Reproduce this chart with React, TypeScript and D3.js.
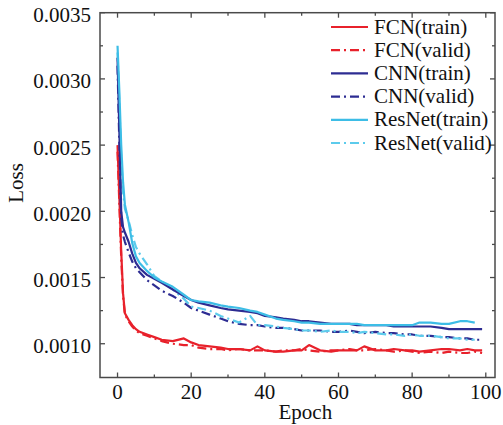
import React from "react";
import * as d3 from "d3";

const epochs = [0, 0.5, 1, 1.5, 2, 3, 4, 5, 6, 8, 10, 12, 15, 18, 20, 22, 25, 28, 30, 33, 36, 38, 40, 43, 45, 48, 50, 52, 55, 58, 60, 63, 65, 67, 70, 73, 75, 78, 80, 82, 85, 88, 90, 93, 95, 97, 99];

const fcnTrain = [0.00250, 0.00210, 0.00170, 0.00138, 0.00123, 0.00118, 0.00114, 0.00111, 0.00109, 0.00107, 0.00105, 0.00103, 0.00102, 0.00104, 0.00101, 0.00099, 0.00098, 0.00097, 0.00096, 0.00096, 0.00095, 0.00098, 0.00095, 0.00094, 0.00094, 0.00095, 0.00095, 0.00099, 0.00095, 0.00094, 0.00095, 0.00095, 0.00095, 0.00098, 0.00095, 0.00095, 0.00096, 0.00095, 0.00095, 0.00094, 0.00095, 0.00096, 0.00096, 0.00095, 0.00096, 0.00095, 0.00095];
const fcnValid = [0.00245, 0.00205, 0.00165, 0.00136, 0.00122, 0.00117, 0.00113, 0.00110, 0.00108, 0.00106, 0.00104, 0.00102, 0.00100, 0.00099, 0.00099, 0.00097, 0.00096, 0.00096, 0.00095, 0.00096, 0.00095, 0.00095, 0.00095, 0.00094, 0.00095, 0.00095, 0.00096, 0.00095, 0.00094, 0.00095, 0.00095, 0.00096, 0.00095, 0.00095, 0.00096, 0.00095, 0.00094, 0.00095, 0.00094, 0.00093, 0.00094, 0.00093, 0.00094, 0.00093, 0.00093, 0.00094, 0.00093];
const cnnTrain = [0.00316, 0.00260, 0.00200, 0.00188, 0.00184, 0.00177, 0.00168, 0.00161, 0.00157, 0.00152, 0.00149, 0.00146, 0.00141, 0.00136, 0.00133, 0.00131, 0.00129, 0.00127, 0.00126, 0.00125, 0.00124, 0.00123, 0.00121, 0.00120, 0.00119, 0.00118, 0.00117, 0.00117, 0.00116, 0.00115, 0.00115, 0.00115, 0.00114, 0.00114, 0.00114, 0.00114, 0.00113, 0.00113, 0.00113, 0.00113, 0.00113, 0.00112, 0.00111, 0.00111, 0.00111, 0.00111, 0.00111];
const cnnValid = [0.00310, 0.00250, 0.00195, 0.00182, 0.00177, 0.00169, 0.00162, 0.00157, 0.00154, 0.00148, 0.00144, 0.00140, 0.00136, 0.00131, 0.00127, 0.00125, 0.00122, 0.00119, 0.00117, 0.00115, 0.00114, 0.00114, 0.00113, 0.00112, 0.00112, 0.00111, 0.00110, 0.00110, 0.00110, 0.00109, 0.00109, 0.00110, 0.00109, 0.00108, 0.00109, 0.00108, 0.00108, 0.00107, 0.00107, 0.00106, 0.00106, 0.00105, 0.00105, 0.00104, 0.00104, 0.00103, 0.00103];
const resTrain = [0.00325, 0.00290, 0.00250, 0.00222, 0.00205, 0.00192, 0.00176, 0.00166, 0.00161, 0.00155, 0.00150, 0.00147, 0.00143, 0.00137, 0.00133, 0.00132, 0.00131, 0.00129, 0.00128, 0.00127, 0.00125, 0.00124, 0.00122, 0.00119, 0.00118, 0.00117, 0.00116, 0.00116, 0.00115, 0.00115, 0.00115, 0.00115, 0.00115, 0.00114, 0.00114, 0.00114, 0.00114, 0.00114, 0.00114, 0.00116, 0.00116, 0.00115, 0.00115, 0.00117, 0.00117, 0.00116, null];
const resValid = [0.00320, 0.00280, 0.00240, 0.00215, 0.00202, 0.00193, 0.00182, 0.00173, 0.00168, 0.00160, 0.00151, 0.00147, 0.00141, 0.00134, 0.00128, 0.00127, 0.00125, 0.00121, 0.00119, 0.00116, 0.00121, 0.00114, 0.00114, 0.00113, 0.00112, 0.00111, 0.00110, 0.00110, 0.00109, 0.00110, 0.00109, 0.00109, 0.00108, 0.00109, 0.00108, 0.00107, 0.00107, 0.00106, 0.00107, 0.00106, 0.00106, 0.00105, 0.00104, 0.00104, 0.00103, 0.00103, null];

const xTicks = [0, 20, 40, 60, 80, 100];
const xMinor = [10, 30, 50, 70, 90];
const yTicks = [0.001, 0.0015, 0.002, 0.0025, 0.003, 0.0035];
const yMinor = [0.00125, 0.00175, 0.00225, 0.00275, 0.00325];

const RED = "#e8212b";
const NAVY = "#2d2c92";
const CYAN = "#3dbde6";
const CYAN_L = "#5ccbec";
const DASH = "9,4,2,4";

const series = [
  { name: "FCN(train)", values: fcnTrain, color: RED, dash: null },
  { name: "FCN(valid)", values: fcnValid, color: RED, dash: DASH },
  { name: "CNN(train)", values: cnnTrain, color: NAVY, dash: null },
  { name: "CNN(valid)", values: cnnValid, color: NAVY, dash: DASH },
  { name: "ResNet(train)", values: resTrain, color: CYAN, dash: null },
  { name: "ResNet(valid)", values: resValid, color: CYAN_L, dash: DASH },
];
const drawOrder = [1, 0, 3, 5, 2, 4];

const W = 503, H = 425;
const L = 100, R = 495, T = 12.7, B = 377.5;
const FONT = "'Liberation Serif', 'Times New Roman', serif";

export default function App() {
  const x = d3.scaleLinear().domain([-4.76, 102.5]).range([L, R]);
  const y = d3.scaleLinear().domain([0.000745, 0.0035]).range([B, T]);
  const line = d3
    .line<[number, number | null]>()
    .defined((d) => d[1] != null)
    .x((d) => x(d[0]))
    .y((d) => y(d[1] as number));
  const frame = "#4a4a4a";

  return (
    <svg width={W} height={H} style={{ position: "absolute", left: 0, top: 0, background: "#fff" }} fontFamily={FONT}>
      <rect x={0} y={0} width={W} height={H} fill="#fff" />
      {drawOrder.map((i) => {
        const s = series[i];
        const pts = epochs.map((e, k) => [e, s.values[k]] as [number, number | null]);
        return (
          <path key={s.name} d={line(pts) || ""} fill="none" stroke={s.color} strokeWidth={2.2}
            strokeDasharray={s.dash || undefined} strokeLinejoin="round" />
        );
      })}
      <rect x={L} y={T} width={R - L} height={B - T} fill="none" stroke={frame} strokeWidth={1.5} />
      {xTicks.map((t) => (
        <g key={"xt" + t}>
          <line x1={x(t)} x2={x(t)} y1={B} y2={B - 5} stroke={frame} strokeWidth={1.3} />
          <line x1={x(t)} x2={x(t)} y1={T} y2={T + 5} stroke={frame} strokeWidth={1.3} />
          <text x={x(t)} y={398.5} textAnchor="middle" fontSize={21} fill="#111">{t}</text>
        </g>
      ))}
      {xMinor.map((t) => (
        <g key={"xm" + t}>
          <line x1={x(t)} x2={x(t)} y1={B} y2={B - 3} stroke={frame} strokeWidth={1.3} />
          <line x1={x(t)} x2={x(t)} y1={T} y2={T + 3} stroke={frame} strokeWidth={1.3} />
        </g>
      ))}
      {yTicks.map((t) => (
        <g key={"yt" + t}>
          <line x1={L} x2={L + 5} y1={y(t)} y2={y(t)} stroke={frame} strokeWidth={1.3} />
          <line x1={R} x2={R - 5} y1={y(t)} y2={y(t)} stroke={frame} strokeWidth={1.3} />
          <text x={91} y={y(t) + 9.5} textAnchor="end" fontSize={21} fill="#111">{t.toFixed(4)}</text>
        </g>
      ))}
      {yMinor.map((t) => (
        <g key={"ym" + t}>
          <line x1={L} x2={L + 3} y1={y(t)} y2={y(t)} stroke={frame} strokeWidth={1.3} />
          <line x1={R} x2={R - 3} y1={y(t)} y2={y(t)} stroke={frame} strokeWidth={1.3} />
        </g>
      ))}
      <text x={x(51)} y={419} textAnchor="middle" fontSize={21} fill="#111">Epoch</text>
      <text transform={`translate(23, 183) rotate(-90)`} textAnchor="middle" fontSize={21} fill="#111">Loss</text>
      {series.map((s, i) => {
        const ly = 27 + i * 23.2;
        return (
          <g key={"lg" + s.name}>
            <line x1={331} x2={368} y1={ly} y2={ly} stroke={s.color} strokeWidth={2.2} strokeDasharray={s.dash || undefined} />
            <text x={374} y={ly + 6.5} fontSize={21} fill="#111">{s.name}</text>
          </g>
        );
      })}
    </svg>
  );
}
